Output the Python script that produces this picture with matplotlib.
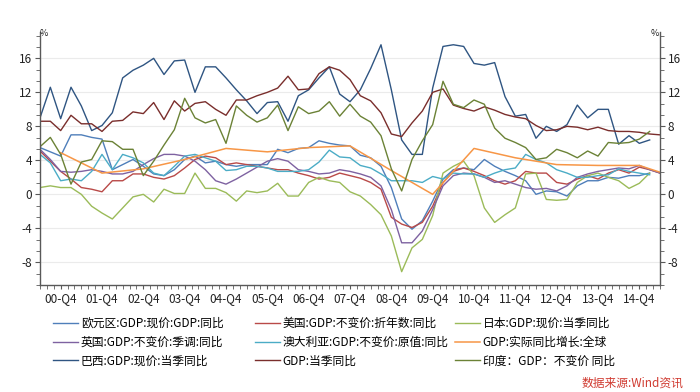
import matplotlib
matplotlib.use('Agg')
import matplotlib.pyplot as plt
import numpy as np
from matplotlib.ticker import MultipleLocator, FixedLocator

plt.rcParams['font.family'] = ['Noto Sans CJK SC', 'DejaVu Sans']
plt.rcParams['axes.unicode_minus'] = False

# quarterly data, first point = 2000Q2
euro = [5.5, 5.0, 4.5, 7.0, 7.0, 6.7, 6.5, 2.9, 3.5, 4.1, 3.3, 2.4, 2.2, 2.9, 4.1, 4.5, 3.7, 3.9, 3.5, 3.3,
        3.5, 3.5, 3.5, 5.3, 4.9, 5.4, 5.5, 6.3, 6.0, 5.8, 5.7, 4.6, 4.3, 3.3, 0.8, -2.9, -4.1, -3.1, -0.8, 1.8,
        2.9, 3.1, 2.9, 4.1, 3.3, 2.7, 2.2, 1.6, 0.0, 0.4, 0.3, -0.2, 1.0, 1.6, 1.6, 2.0, 1.9, 2.2, 2.2, 2.5]
usa = [5.1, 3.9, 2.7, 1.8, 0.8, 0.6, 0.3, 1.6, 1.6, 2.4, 2.4, 2.0, 1.8, 2.2, 3.1, 4.1, 4.5, 4.3, 3.5, 3.7,
       3.5, 3.3, 3.1, 2.9, 2.9, 2.5, 2.2, 1.8, 2.0, 2.5, 2.2, 1.9, 1.4, 0.6, -2.7, -3.5, -3.9, -3.3, -1.4, 1.4,
       2.7, 3.1, 2.7, 2.2, 1.6, 1.2, 1.6, 2.7, 2.5, 2.5, 1.4, 1.2, 1.8, 2.2, 1.8, 2.5, 2.9, 2.5, 3.2, 2.9, 2.5]
japan = [0.8, 1.0, 0.8, 0.8, 0.0, -1.4, -2.2, -2.9, -1.6, -0.3, 0.0, -0.9, 0.6, 0.1, 0.1, 2.5, 0.7, 0.7, 0.2, -0.8,
         0.4, 0.2, 0.4, 1.3, -0.2, -0.2, 1.4, 2.0, 1.6, 1.4, 0.3, -0.2, -1.2, -2.4, -4.9, -9.1, -6.3, -5.3, -2.5, 2.5,
         3.3, 3.9, 2.2, -1.6, -3.3, -2.4, -1.6, 2.4, 2.5, -0.6, -0.7, -0.6, 1.4, 2.2, 2.5, 2.0, 1.6, 0.7, 1.3, 2.5]
uk = [5.3, 4.1, 2.7, 2.6, 2.7, 2.9, 2.7, 2.4, 2.4, 2.7, 3.5, 4.2, 4.7, 4.7, 4.5, 3.9, 2.9, 1.6, 1.2, 1.8,
      2.5, 3.2, 3.9, 4.2, 3.9, 2.9, 2.7, 2.4, 2.5, 2.9, 2.7, 2.4, 2.0, 1.0, -1.8, -5.7, -5.7, -4.3, -1.8, 1.0,
      2.2, 2.5, 2.4, 2.0, 1.4, 1.6, 1.2, 0.8, 0.6, 0.7, 0.4, 1.0, 2.0, 2.4, 2.7, 2.9, 3.1, 3.0, 3.4, 2.9, 2.5]
australia = [4.7, 3.7, 1.6, 1.8, 1.6, 2.7, 4.7, 2.9, 4.7, 4.3, 3.7, 2.5, 2.2, 3.3, 4.5, 4.7, 4.3, 3.9, 2.8, 2.9,
             3.3, 3.3, 3.1, 2.7, 2.7, 2.7, 2.9, 3.8, 5.2, 4.4, 4.3, 3.4, 3.1, 2.4, 1.6, 1.6, 1.6, 1.4, 2.1, 1.8,
             2.5, 2.4, 2.4, 2.0, 2.5, 2.9, 3.1, 4.7, 4.1, 3.7, 2.9, 2.5, 2.0, 2.0, 2.2, 2.3, 3.0, 2.7, 2.5, 2.3]
brazil = [9.0, 12.6, 8.9, 12.6, 10.4, 7.5, 8.1, 9.6, 13.7, 14.6, 15.2, 16.0, 14.1, 15.7, 15.8, 12.0, 15.0, 15.0, 13.7, 12.3,
          11.0, 9.5, 10.8, 10.9, 8.6, 11.6, 12.3, 13.7, 15.0, 11.8, 10.9, 12.3, 14.8, 17.6, 12.3, 6.4, 4.7, 4.7, 12.5, 17.4,
          17.6, 17.4, 15.4, 15.2, 15.5, 11.5, 9.2, 9.4, 6.6, 8.0, 7.4, 8.2, 10.5, 9.0, 10.0, 10.0, 5.9, 6.9, 6.0, 6.4]
china = [8.6, 8.6, 7.5, 9.3, 8.3, 8.3, 7.4, 8.6, 8.7, 9.7, 9.5, 10.8, 8.8, 11.0, 9.8, 10.7, 10.9, 10.0, 9.3, 11.1,
         11.1, 11.6, 12.0, 12.5, 13.9, 12.3, 12.4, 14.2, 15.0, 14.6, 13.5, 11.6, 11.0, 9.6, 7.1, 6.8, 8.4, 9.8, 12.0, 12.4,
         10.5, 10.1, 9.8, 10.3, 9.9, 9.4, 9.1, 8.9, 8.1, 7.5, 7.6, 8.0, 7.9, 7.6, 7.9, 7.5, 7.4, 7.4, 7.3, 7.1, 7.0]
india = [5.6, 6.7, 4.7, 1.2, 3.8, 4.1, 6.3, 6.2, 5.3, 5.3, 2.2, 3.9, 5.8, 7.6, 11.3, 9.0, 8.4, 8.8, 6.0, 10.4,
         9.3, 8.5, 9.0, 10.5, 7.5, 10.3, 9.5, 9.8, 10.9, 9.2, 10.6, 9.2, 8.5, 6.9, 3.0, 0.4, 4.1, 6.3, 8.2, 13.3,
         10.6, 10.2, 11.1, 10.6, 7.8, 6.6, 6.1, 5.5, 4.1, 4.3, 5.3, 4.9, 4.3, 5.1, 4.5, 6.1, 6.0, 6.1, 6.5, 7.4]

# annual world growth, plotted at Q4 of each year
world_month = [12, 24, 36, 48, 60, 72, 84, 96, 108, 120, 132, 144, 156, 168, 180, 186]
world = [4.9, 2.5, 3.0, 4.1, 5.4, 5.0, 5.5, 5.7, 2.8, 0.0, 5.4, 4.3, 3.5, 3.4, 3.4, 2.6]

year_labels = ['%02d-Q4' % y for y in range(0, 15)]

series = [
    ('欧元区:GDP:现价:GDP:同比', euro, '#4F7FBA'),
    ('美国:GDP:不变价:折年数:同比', usa, '#B94A48'),
    ('日本:GDP:现价:当季同比', japan, '#9BBB59'),
    ('英国:GDP:不变价:季调:同比', uk, '#7E62A1'),
    ('澳大利亚:GDP:不变价:原值:同比', australia, '#4BACC6'),
    ('GDP:实际同比增长:全球', None, '#F79646'),
    ('巴西:GDP:现价:当季同比', brazil, '#2F5582'),
    ('GDP:当季同比', china, '#7A2E2C'),
    ('印度：GDP：不变价 同比', india, '#6B8236'),
]


def months(vals):
    # month index counted from Jan 2000, quarter ends
    return 6 + 3 * np.arange(len(vals))


fig = plt.figure(figsize=(7, 3.92), dpi=100)
ax = fig.add_axes([40 / 700, 107 / 392, 620 / 700, 253 / 392])

handles = []
for name, vals, col in series:
    if vals is None:
        h, = ax.plot(world_month, world, color=col, lw=1.1, label=name)
    else:
        h, = ax.plot(months(vals), vals, color=col, lw=1.0, label=name)
    handles.append(h)

ax.set_xlim(6, 186)
ax.set_ylim(-32 / 3, 19.1)

ax.yaxis.set_major_locator(FixedLocator([-8, -4, 0, 4, 8, 12, 16]))
ax.yaxis.set_minor_locator(MultipleLocator(4 / 3))
ax.xaxis.set_major_locator(FixedLocator(np.arange(12, 181, 12)))
ax.xaxis.set_minor_locator(MultipleLocator(2))
ax.set_xticklabels(year_labels)

for s in ['left', 'right', 'bottom']:
    ax.spines[s].set_color('#595959')
    ax.spines[s].set_linewidth(1.0)
ax.spines['top'].set_visible(False)

ax.tick_params(axis='y', which='both', direction='out', left=True, right=True,
               labelleft=True, labelright=True, color='#595959', labelsize=8.5,
               labelcolor='#222222', pad=2)
ax.tick_params(axis='y', which='major', length=3.5)
ax.tick_params(axis='y', which='minor', length=3)
ax.tick_params(axis='x', which='both', direction='out', length=3, color='#595959',
               labelsize=8.5, labelcolor='#222222', pad=2)

ax.yaxis.grid(True, which='major', color='#EBEBEB', linewidth=0.8)
ax.set_axisbelow(True)

fig.text(44 / 700, 1 - 33 / 392, '%', fontsize=6.5, ha='center', va='center', color='#222222')
fig.text(655 / 700, 1 - 33 / 392, '%', fontsize=6.5, ha='center', va='center', color='#222222')

# legend in three columns, filled row by row
col_x = [53, 255, 455]
for c in range(3):
    hs = [handles[c], handles[c + 3], handles[c + 6]]
    fig.legend(hs, [h.get_label() for h in hs], loc='upper left',
               bbox_to_anchor=(col_x[c] / 700, 1 - 317 / 392), frameon=False,
               fontsize=8.5, handlelength=2.1, handletextpad=0.25,
               borderpad=0, borderaxespad=0, labelspacing=0.48)

fig.text(632 / 700, 1 - 383 / 392, '数据来源:Wind资讯', fontsize=8.5, color='#D03A30',
         style='italic', ha='center', va='center')

fig.savefig('out.png', dpi=100)
